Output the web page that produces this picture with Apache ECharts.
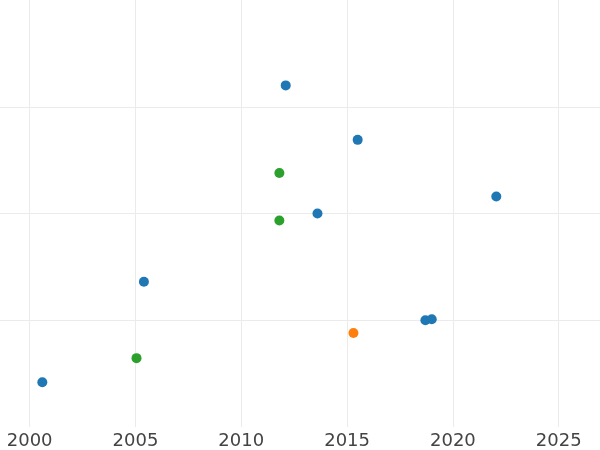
<!DOCTYPE html>
<html><head><meta charset="utf-8">
<script src="https://cdn.jsdelivr.net/npm/echarts@6/dist/echarts.min.js"></script>
<style>html,body{margin:0;padding:0;background:#fff}#c{width:600px;height:450px}</style>
</head><body><div id="c"></div>
<script>
const blueX = [2000.6, 2005.4, 2012.1, 2013.6, 2015.5, 2018.7, 2019.0, 2022.05];
const blueY = [0.42, 1.36, 3.20, 2.00, 2.69, 1.00, 1.01, 2.16];
const greenX = [2005.05, 2011.8, 2011.8];
const greenY = [0.645, 2.38, 1.935];
const orangeX = [2015.3];
const orangeY = [0.88];
const xRange = [1998.6, 2026.95];
const yRange = [0, 4];

const zip = (a, b) => a.map((v, i) => [v, b[i]]);
const chart = echarts.init(document.getElementById('c'), null, {renderer: 'canvas'});
chart.setOption({
  animation: false,
  grid: {left: 0, right: 0, top: 0, bottom: 23, containLabel: false},
  xAxis: {
    type: 'value', min: xRange[0], max: xRange[1], splitNumber: 6,
    axisLine: {show: false}, axisTick: {show: false},
    axisLabel: {color: '#444', fontSize: 18, fontFamily: 'DejaVu Sans', margin: 5,
                showMinLabel: false, showMaxLabel: false,
                formatter: v => (Math.abs(v % 5) < 1e-6 ? String(v) : '')},
    splitLine: {show: true, showMinLine: false, showMaxLine: false, lineStyle: {color: '#ebebeb', width: 1}}
  },
  yAxis: {
    type: 'value', min: yRange[0], max: yRange[1], splitNumber: 4,
    axisLine: {show: false}, axisTick: {show: false}, axisLabel: {show: false},
    splitLine: {show: true, showMinLine: false, showMaxLine: false, lineStyle: {color: '#ebebeb', width: 1}}
  },
  series: [
    {type: 'scatter', data: zip(blueX, blueY), symbolSize: 10, itemStyle: {color: '#1f77b4', opacity: 1}},
    {type: 'scatter', data: zip(greenX, greenY), symbolSize: 10, itemStyle: {color: '#2ca02c', opacity: 1}},
    {type: 'scatter', data: zip(orangeX, orangeY), symbolSize: 10, itemStyle: {color: '#ff7f0e', opacity: 1}}
  ]
});
</script></body></html>
